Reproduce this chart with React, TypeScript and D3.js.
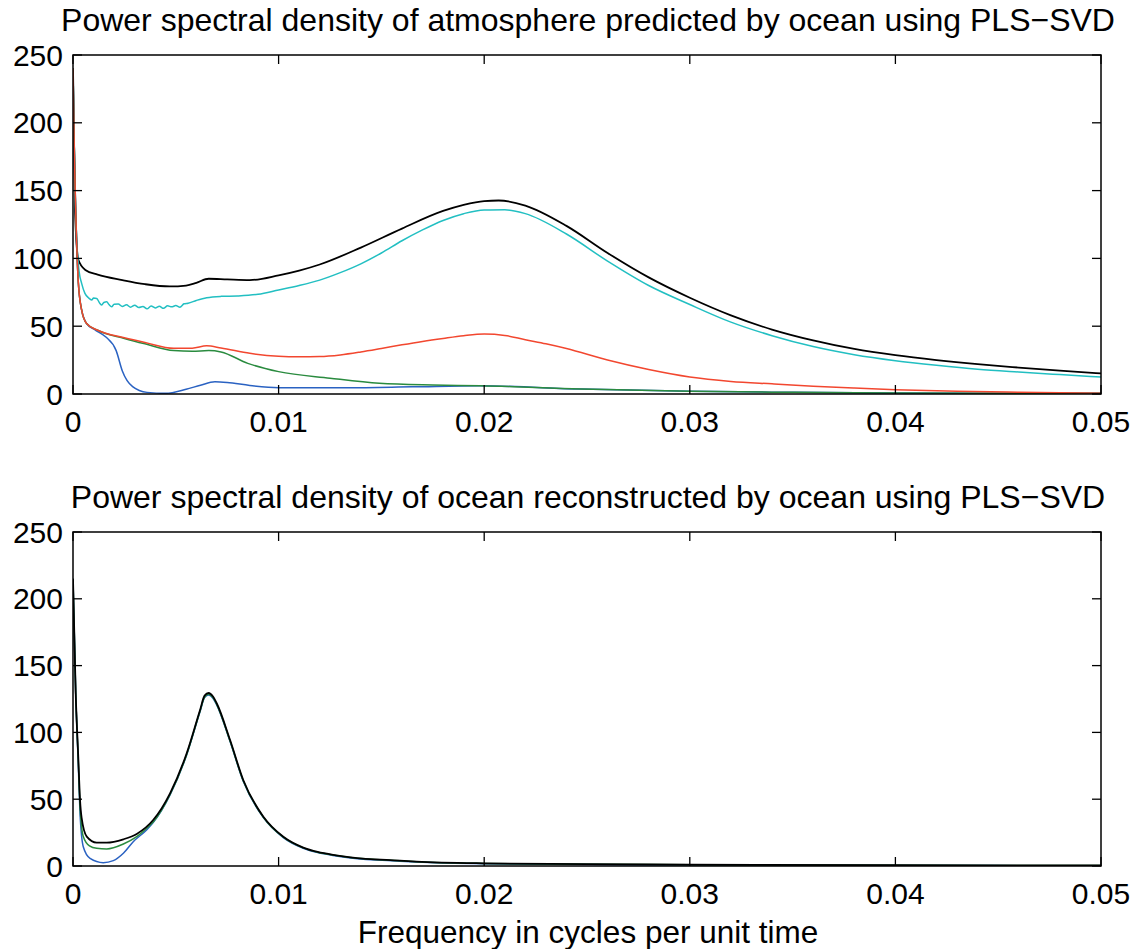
import React from "react";
import * as d3 from "d3";

type P = [number, number];

const xTicks = [0, 0.01, 0.02, 0.03, 0.04, 0.05];
const xTickLabels = ["0", "0.01", "0.02", "0.03", "0.04", "0.05"];
const yTicks = [0, 50, 100, 150, 200, 250];
const yTickLabels = ["0", "50", "100", "150", "200", "250"];

const topTitle = "Power spectral density of atmosphere predicted by ocean using PLS\u2212SVD";
const bottomTitle = "Power spectral density of ocean reconstructed by ocean using PLS\u2212SVD";
const xLabel = "Frequency in cycles per unit time";

// Top panel series
const topBlack: P[] = [
  [0, 240], [0.0001, 135], [0.00026, 99], [0.0006, 91.5], [0.0012, 88], [0.0024, 84],
  [0.0035, 81], [0.0047, 79.3], [0.0055, 80], [0.006, 82], [0.0066, 85], [0.0075, 84.5],
  [0.0086, 84], [0.01, 87.5], [0.011, 91], [0.012, 95.5], [0.014, 108], [0.016, 122],
  [0.018, 135], [0.019, 139.5], [0.02, 142.3], [0.0207, 142.7], [0.022, 139], [0.024, 124],
  [0.026, 104], [0.028, 86], [0.03, 71], [0.032, 58], [0.034, 47.5], [0.036, 39.5],
  [0.038, 33.2], [0.04, 28.6], [0.042, 25], [0.044, 22], [0.046, 19.5], [0.048, 17.2],
  [0.05, 15.2],
];

const topCyan: P[] = [
  [0, 240], [0.0001, 150], [0.0002, 108], [0.0003, 90], [0.00042, 81.6], [0.00058, 74.2],
  [0.00075, 71], [0.00091, 69.3], [0.001, 70.8], [0.00115, 70.5], [0.0013, 67], [0.0014, 65.6],
  [0.0015, 67.5], [0.00164, 68], [0.00175, 66], [0.00188, 64.4], [0.002, 66.2], [0.0022, 66.4],
  [0.0024, 64.5], [0.0026, 65.8], [0.0028, 64], [0.003, 65.5], [0.0032, 63.8], [0.0034, 64.6],
  [0.0036, 62.8], [0.0038, 64.9], [0.004, 63.5], [0.0042, 64.7], [0.0044, 63.2], [0.0046, 65],
  [0.0048, 64.3], [0.005, 65.2], [0.0052, 64], [0.0054, 66.5], [0.0056, 67], [0.006, 69],
  [0.0065, 71], [0.0072, 72], [0.008, 72.3], [0.009, 73.5], [0.01, 76.7], [0.011, 80],
  [0.012, 84], [0.013, 89.5], [0.014, 96], [0.015, 104], [0.016, 113], [0.017, 121],
  [0.018, 128], [0.019, 133], [0.02, 135.7], [0.021, 135.8], [0.022, 133], [0.024, 118],
  [0.026, 98], [0.028, 80], [0.03, 66], [0.032, 53], [0.034, 43], [0.036, 35],
  [0.038, 29], [0.04, 24.6], [0.042, 21.2], [0.044, 18.3], [0.046, 16.2], [0.048, 14.3],
  [0.05, 12.5],
];

const topRed: P[] = [
  [0, 240], [0.00005, 190], [0.0001, 155], [0.00026, 82], [0.00042, 62], [0.00066, 52],
  [0.0012, 47], [0.0025, 41.5], [0.0035, 38], [0.0049, 33.7], [0.0058, 33.8], [0.0065, 35.5],
  [0.0072, 34], [0.0086, 30], [0.01, 27.8], [0.011, 27.4], [0.012, 27.6], [0.013, 28.8],
  [0.014, 31], [0.015, 33.6], [0.016, 36.3], [0.017, 38.8], [0.018, 41], [0.019, 43],
  [0.02, 44.2], [0.021, 43.2], [0.022, 40], [0.023, 37], [0.024, 33.5], [0.026, 25],
  [0.028, 18], [0.03, 12.5], [0.032, 9.3], [0.034, 7.5], [0.036, 5.8], [0.038, 4.4],
  [0.04, 3.2], [0.043, 2], [0.046, 1.3], [0.05, 0.6],
];

const topGreen: P[] = [
  [0, 240], [0.00005, 190], [0.0001, 155], [0.00026, 82], [0.00042, 62], [0.00066, 52],
  [0.0012, 47], [0.0025, 41], [0.0035, 37], [0.0049, 32], [0.0058, 31.5], [0.0066, 32],
  [0.0072, 31], [0.0085, 22.6], [0.01, 16.5], [0.0125, 11.7], [0.0149, 7.9], [0.0175, 6.6],
  [0.0198, 6.1], [0.0247, 3.6], [0.03, 2], [0.035, 1.2], [0.04, 0.8], [0.05, 0.5],
];

const topBlue: P[] = [
  [0, 240], [0.00005, 190], [0.0001, 155], [0.00026, 82], [0.00042, 62], [0.00066, 52],
  [0.0011, 47], [0.0016, 42], [0.0021, 32], [0.0024, 17], [0.0029, 5.4], [0.0036, 1.2],
  [0.0045, 0.5], [0.0055, 3.5], [0.0062, 6.5], [0.0069, 9], [0.0075, 8.5], [0.0086, 6.3],
  [0.01, 4.7], [0.0133, 4.7], [0.0165, 5.3], [0.0198, 6], [0.0247, 3.6], [0.03, 2],
  [0.035, 1.2], [0.04, 0.8], [0.05, 0.5],
];

// Bottom panel series
const bottomBlack: P[] = [
  [0, 215], [0.00013, 130], [0.00026, 80], [0.00034, 50], [0.00042, 36], [0.00067, 22],
  [0.00115, 17.5], [0.00164, 17.5], [0.00245, 20], [0.0031, 24], [0.0039, 34.4], [0.00472, 54.4],
  [0.00553, 84.4], [0.00618, 116.8], [0.0064, 127.5], [0.0066, 129.5], [0.0068, 127], [0.00699, 121.8],
  [0.00764, 94.3], [0.00828, 64.4], [0.00926, 36.9], [0.01023, 21.9], [0.0112, 13.8], [0.0119, 10.5],
  [0.0128, 8], [0.0135, 6.5], [0.0159, 4], [0.0167, 3.3], [0.02, 2], [0.025, 1.4], [0.03, 1],
  [0.04, 0.6], [0.05, 0.4],
];

const bottomGreen: P[] = [
  [0, 215], [0.00013, 130], [0.00026, 78], [0.00034, 45], [0.0005, 22], [0.0008, 15],
  [0.00115, 13.2], [0.00164, 12.8], [0.00245, 16.5], [0.0031, 22], [0.00375, 30.7], [0.0039, 33],
  [0.00472, 53.5], [0.00553, 83.5], [0.00618, 116], [0.0064, 126.5], [0.0066, 128.5], [0.0068, 126.2],
  [0.00699, 121], [0.00764, 93.5], [0.00828, 63.8], [0.00926, 36.5], [0.01023, 21.6], [0.0112, 13.6],
  [0.0119, 10.3], [0.0128, 7.8], [0.0135, 6.3], [0.0159, 3.9], [0.0167, 3.2], [0.02, 1.9],
  [0.025, 1.3], [0.03, 0.9], [0.04, 0.5], [0.05, 0.3],
];

const bottomBlue: P[] = [
  [0, 215], [0.00013, 130], [0.00026, 75], [0.00034, 40], [0.0005, 14.4], [0.00083, 5.7],
  [0.00147, 2.5], [0.00196, 4], [0.00245, 9.5], [0.00293, 18.2], [0.00358, 27], [0.0039, 32.5],
  [0.00472, 53.2], [0.00553, 83.2], [0.00618, 115.6], [0.0064, 126], [0.0066, 128], [0.0068, 125.8],
  [0.00699, 120.6], [0.00764, 93.2], [0.00828, 63.4], [0.00926, 36.2], [0.01023, 21.3], [0.0112, 13.3],
  [0.0119, 10], [0.0128, 7.5], [0.0135, 6], [0.0159, 3.6], [0.0167, 3], [0.02, 1.7],
  [0.025, 1.1], [0.03, 0.7], [0.04, 0.4], [0.05, 0.2],
];

const COLORS = {
  black: "#000000",
  cyan: "#22bfc2",
  red: "#f2472f",
  green: "#2a8b3f",
  blue: "#2a62c2",
};

const FONT = "'Liberation Sans', Arial, Helvetica, sans-serif";
const X0 = 73;
const X1 = 1101;

type Series = { data: P[]; color: string; width: number };

function Panel(props: {
  top: number;
  bottom: number;
  title: string;
  titleY: number;
  series: Series[];
}) {
  const { top, bottom, title, titleY, series } = props;
  const x = d3.scaleLinear().domain([0, 0.05]).range([X0, X1]);
  const y = d3.scaleLinear().domain([0, 250]).range([bottom, top]);
  const line = d3
    .line<P>()
    .x((d) => x(d[0]))
    .y((d) => y(d[1]))
    .curve(d3.curveMonotoneX);
  const tl = 9;
  return (
    <g>
      <defs>
        <clipPath id={`clip${top}`}>
          <rect x={X0} y={top} width={X1 - X0} height={bottom - top} />
        </clipPath>
      </defs>
      <text
        x={(X0 + X1) / 2 + 1}
        y={titleY}
        fontFamily={FONT}
        fontSize={32}
        textAnchor="middle"
      >
        {title}
      </text>
      <g clipPath={`url(#clip${top})`}>
        {series.map((s, i) => (
          <path
            key={i}
            d={line(s.data) || ""}
            fill="none"
            stroke={s.color}
            strokeWidth={s.width}
            strokeLinejoin="round"
          />
        ))}
      </g>
      <rect
        x={X0}
        y={top}
        width={X1 - X0}
        height={bottom - top}
        fill="none"
        stroke="#000"
        strokeWidth={1.5}
      />
      {xTicks.map((t, i) => (
        <g key={"x" + i}>
          <line x1={x(t)} x2={x(t)} y1={bottom} y2={bottom - tl} stroke="#000" strokeWidth={1.3} />
          <line x1={x(t)} x2={x(t)} y1={top} y2={top + tl} stroke="#000" strokeWidth={1.3} />
          <text
            x={x(t)}
            y={bottom + 37.5}
            fontFamily={FONT}
            fontSize={30}
            textAnchor="middle"
          >
            {xTickLabels[i]}
          </text>
        </g>
      ))}
      {yTicks.map((t, i) => (
        <g key={"y" + i}>
          <line x1={X0} x2={X0 + tl} y1={y(t)} y2={y(t)} stroke="#000" strokeWidth={1.3} />
          <line x1={X1} x2={X1 - tl} y1={y(t)} y2={y(t)} stroke="#000" strokeWidth={1.3} />
          <text
            x={63}
            y={y(t) + 10.5}
            fontFamily={FONT}
            fontSize={30}
            textAnchor="end"
          >
            {yTickLabels[i]}
          </text>
        </g>
      ))}
    </g>
  );
}

export default function App() {
  const topSeries: Series[] = [
    { data: topBlack, color: COLORS.black, width: 1.8 },
    { data: topCyan, color: COLORS.cyan, width: 1.5 },
    { data: topBlue, color: COLORS.blue, width: 1.5 },
    { data: topGreen, color: COLORS.green, width: 1.5 },
    { data: topRed, color: COLORS.red, width: 1.5 },
  ];
  const bottomSeries: Series[] = [
    { data: bottomBlue, color: COLORS.blue, width: 1.5 },
    { data: bottomGreen, color: COLORS.green, width: 1.5 },
    { data: bottomBlack, color: COLORS.black, width: 1.8 },
  ];
  return (
    <svg
      width={1144}
      height={949}
      style={{ position: "absolute", left: 0, top: 0, background: "#fff" }}
    >
      <rect x={0} y={0} width={1144} height={949} fill="#fff" />
      <Panel top={55} bottom={394} title={topTitle} titleY={31} series={topSeries} />
      <Panel top={532} bottom={866} title={bottomTitle} titleY={508} series={bottomSeries} />
      <text
        x={(X0 + X1) / 2 + 1}
        y={943}
        fontFamily={FONT}
        fontSize={31.5}
        textAnchor="middle"
      >
        {xLabel}
      </text>
    </svg>
  );
}
